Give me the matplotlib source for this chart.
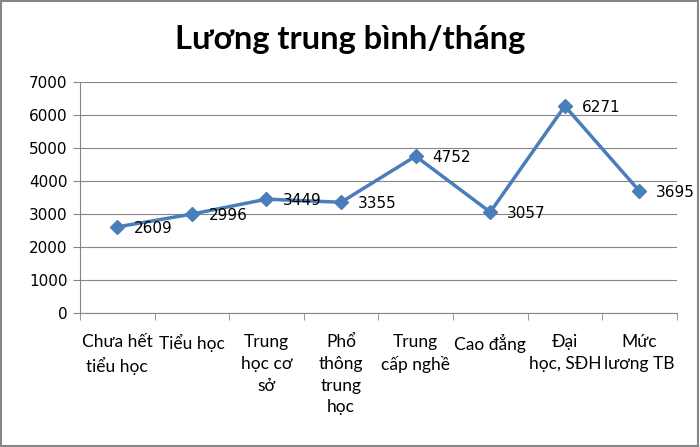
import matplotlib
matplotlib.use("Agg")
import matplotlib.pyplot as plt
import numpy as np

plt.rcParams['font.family'] = ['Lato', 'DejaVu Sans']

categories = ["Chưa hết\ntiểu học", "Tiểu học", "Trung\nhọc cơ\nsở", "Phổ\nthông\ntrung\nhọc",
              "Trung\ncấp nghề", "Cao đẳng", "Đại\nhọc, SĐH", "Mức\nlương TB"]
values = [2609, 2996, 3449, 3355, 4752, 3057, 6271, 3695]
title = "Lương trung bình/tháng"

fig = plt.figure(figsize=(7, 4.47), dpi=100)
ax = fig.add_axes([0.1143, 0.2998, 0.8524, 0.5168])

x = np.arange(len(categories))
ax.plot(x, values, color='#4a7ebb', linewidth=2.5, marker='D', markersize=7.5,
        markerfacecolor='#4a7ebb', markeredgecolor='#4a7ebb', zorder=3)
for xi, v in zip(x, values):
    ax.annotate(str(v), (xi, v), xytext=(12, -1), textcoords='offset points',
                ha='left', va='center', fontsize=11, color='black', family='DejaVu Sans')

ax.set_xlim(-0.5, len(categories) - 0.5)
ax.set_ylim(0, 7000)
ax.set_yticks(np.arange(0, 7001, 1000))
ax.yaxis.grid(True, color='#868686', linewidth=0.8)
ax.set_axisbelow(True)

ax.set_xticks(x)
ax.set_xticklabels(categories, fontsize=12.5, linespacing=1.45, va='top')
ax.tick_params(axis='x', length=0, pad=15)
ax.set_xticks(np.arange(-0.5, len(categories), 1), minor=True)
ax.tick_params(axis='x', which='minor', length=5, color='#868686', direction='out')
ax.tick_params(axis='y', length=5, color='#868686', labelsize=11, pad=4)
for lbl in ax.get_yticklabels():
    lbl.set_family('DejaVu Sans')

for s in ['top', 'right']:
    ax.spines[s].set_visible(False)
for s in ['left', 'bottom']:
    ax.spines[s].set_color('#868686')

fig.text(0.5, 0.912, title, ha='center', va='center', fontsize=23.5, fontweight='bold')

border = plt.Rectangle((0.002, 0.003), 0.995, 0.994, transform=fig.transFigure,
                       fill=False, edgecolor='#868686', linewidth=1.5)
fig.patches.append(border)

fig.savefig('out.png', dpi=100)
